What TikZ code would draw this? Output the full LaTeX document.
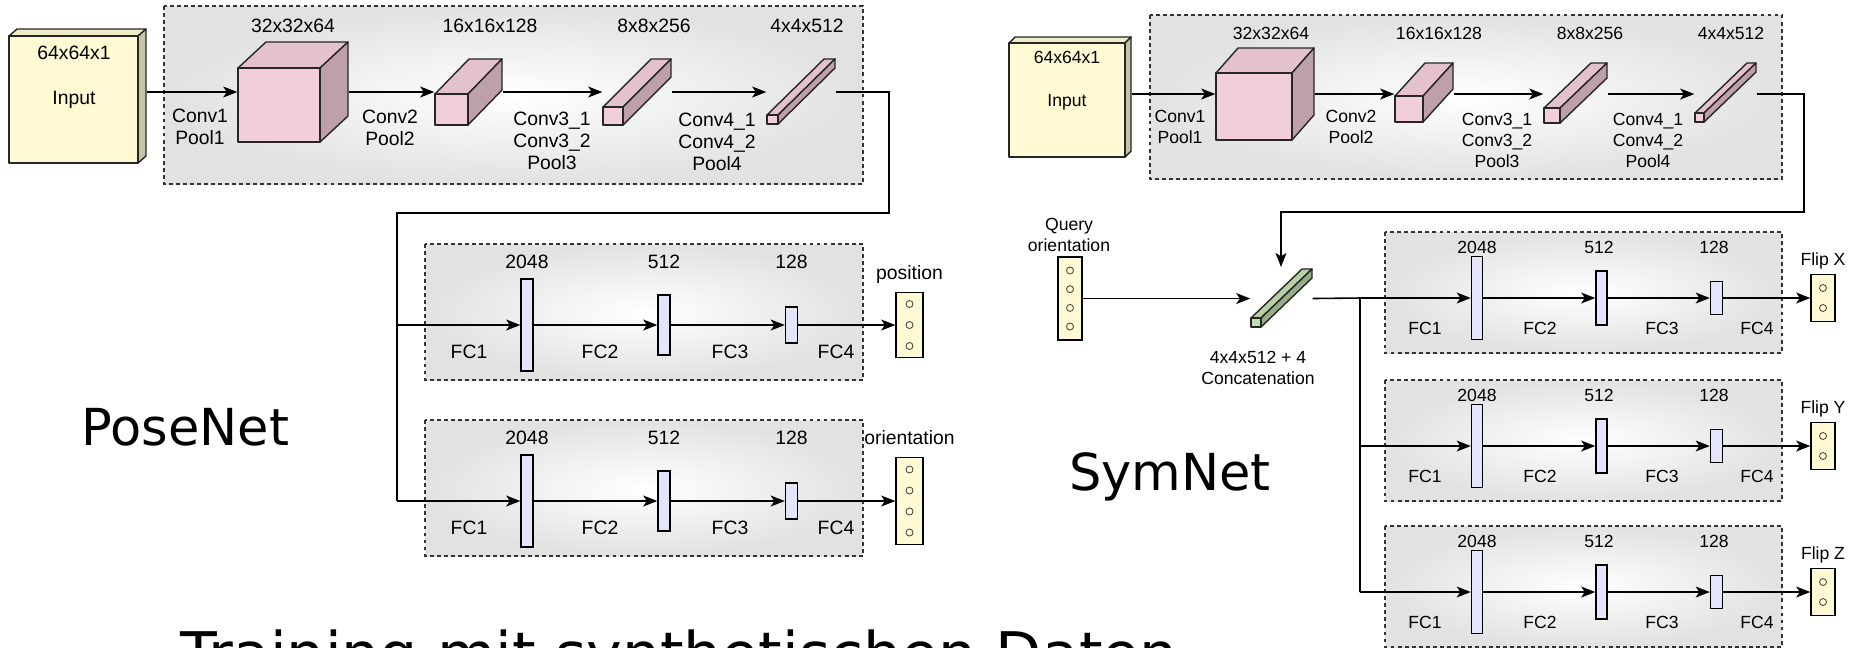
\documentclass[tikz,border=0pt]{standalone}
\usepackage{fontspec}
\setmainfont{Liberation Sans}
\newfontfamily\bigfont{DejaVu Sans}
\usetikzlibrary{arrows.meta}
\usetikzlibrary{fit}

\definecolor{inyellow}{RGB}{255,250,212}
\definecolor{convpink}{RGB}{242,205,218}
\definecolor{fcblue}{RGB}{228,228,250}
\definecolor{catgreen}{RGB}{194,220,176}
\definecolor{panelgray}{RGB}{226,226,226}

% 3d block: name, front top-left x, y, width, height, depth x, depth y, colour
\newcommand{\layer}[8]{%
  \draw[face, fill=#8!94!black] (#2,#3) -- ++(#6,-#7) -- ++(#4,0) -- ++(-#6,#7) -- cycle;
  \draw[face, fill=#8!78!black] ({#2+#4},#3) -- ++(#6,-#7) -- ++(0,#5) -- ++(-#6,#7) -- cycle;
  \draw[face, fill=#8] (#2,#3) rectangle ++(#4,#5);
  \node[fit={(#2,{#3-#7}) ({#2+#4+#6},{#3+#5})}, inner sep=0pt] (#1) {};
}

\begin{document}
\begin{tikzpicture}[x=0.01cm, y=-0.01cm]
   \tikzset{face/.style={draw=black!85, line width=0.4pt, line join=round}}
   \tikzset{panel/.style={draw=black!80, line width=0.4pt, dash pattern=on 1.1pt off 0.9pt,
                          inner color=white, outer color=panelgray}}
   \tikzset{wire/.style={line width=0.45pt}}
   \tikzset{arr/.style={wire, -{Stealth[length=4pt, width=3.1pt, inset=1pt]}}}
   \tikzset{lbl/.style={font=\fontsize{5.5}{6.2}\selectfont, align=center, inner sep=0pt}}
   \tikzset{slbl/.style={font=\fontsize{5}{6}\selectfont, align=center, inner sep=0pt}}
   \tikzset{fcbar/.style={draw, fill=fcblue, line width=0.4pt, minimum width=0.12cm, inner sep=0pt}}
   \tikzset{outbox/.style={draw, fill=inyellow, line width=0.4pt, minimum width=0.27cm, inner sep=0pt}}
   \tikzset{unit/.style={circle, draw=black!70, line width=0.25pt, minimum size=0.07cm, inner sep=0pt}}

   \useasboundingbox (0,0) rectangle (1854,647);
   \clip (0,0) rectangle (1854,647);

   % ---- PoseNet: conv part
   \path[panel] (164,6) rectangle (863,184);
   \layer{lin}{9}{36}{129}{127}{8}{7}{inyellow}
   \layer{lc1}{238}{68}{82}{74}{28}{26}{convpink}
   \layer{lc2}{435}{94}{33}{31}{34}{35}{convpink}
   \layer{lc3}{603}{107}{20}{18}{48}{48}{convpink}
   \layer{lc4}{767}{115}{11}{9}{57}{56}{convpink}
   \node[lbl] (lin1) at (74,53) {64x64x1};
   \node[lbl] (lin2) at (74,100) {Input};
   \node[lbl] (ls1) at (293,26) {32x32x64};
   \node[lbl] (ls2) at (490,26) {16x16x128};
   \node[lbl] (ls3) at (654,26) {8x8x256};
   \node[lbl] (ls4) at (807,26) {4x4x512};
   \node[lbl] (lk1) at (200,127) {Conv1\\Pool1};
   \node[lbl] (lk2) at (390,128) {Conv2\\Pool2};
   \node[lbl] (lk3) at (552,141) {Conv3\_1\\Conv3\_2\\Pool3};
   \node[lbl] (lk4) at (717,142) {Conv4\_1\\Conv4\_2\\Pool4};
   \coordinate (lrow) at (0,92);
   \foreach \a/\b in {lin/lc1, lc1/lc2, lc2/lc3, lc3/lc4}
      \draw[arr] (\a.east |- lrow) -- (\b.west |- lrow);

   % ---- PoseNet: fc heads
   \foreach \n/\ry/\k/\lab in {p/325/3/position, o/501/4/orientation} {
      \path[panel] (425,\ry-81) rectangle (863,\ry+55);
      \coordinate (\n0) at (397,\ry);
      \node[fcbar, minimum height=0.92cm] (\n1) at (527,\ry) {};
      \node[fcbar, minimum height=0.60cm] (\n2) at (664,\ry) {};
      \node[fcbar, minimum height=0.36cm] (\n3) at (791.5,\ry) {};
      \node[outbox, minimum height=\k*0.215cm+0.01cm] (\n4) at (909.5,\ry) {};
      \foreach \i in {1,...,\k}
         \node[unit] at (909.5,{\ry+(\i-(\k+1)/2)*21}) {};
      \draw[arr] (\n0) -- (\n1);
      \draw[arr] (\n1) -- (\n2);
      \draw[arr] (\n2) -- (\n3);
      \draw[arr] (\n3) -- (\n4);
      \node[lbl] at (527,\ry-63) {2048};
      \node[lbl] at (664,\ry-63) {512};
      \node[lbl] at (791.5,\ry-63) {128};
      \node[lbl] at (469,\ry+27) {FC1};
      \node[lbl] at (600,\ry+27) {FC2};
      \node[lbl] at (730,\ry+27) {FC3};
      \node[lbl] at (836,\ry+27) {FC4};
      \node[lbl, anchor=base] at ([yshift=0.12cm]\n4.north) {\lab};
   }
   \coordinate (fbR) at (889,213);
   \coordinate (fbL) at (397,213);
   \draw[wire] (lc4.east |- lrow) -| (fbR) -- (fbL) -- (o0);

   % ---- SymNet: conv part
   \path[panel] (1150,15) rectangle (1782,179);
   \layer{rin}{1009}{43}{116}{114}{6}{6}{inyellow}
   \layer{rc1}{1216}{73}{76}{67}{22}{25}{convpink}
   \layer{rc2}{1395}{96}{28}{26}{30}{33}{convpink}
   \layer{rc3}{1544}{108}{16}{15}{47}{45}{convpink}
   \layer{rc4}{1695}{113}{9}{9}{52}{50}{convpink}
   \node[slbl] (rin1) at (1067,57) {64x64x1};
   \node[slbl] (rin2) at (1067,102) {Input};
   \node[slbl] (rs1) at (1271,33) {32x32x64};
   \node[slbl] (rs2) at (1439,33) {16x16x128};
   \node[slbl] (rs3) at (1590,33) {8x8x256};
   \node[slbl] (rs4) at (1731,33) {4x4x512};
   \node[slbl] (rk1) at (1180,126.5) {Conv1\\Pool1};
   \node[slbl] (rk2) at (1351,126.5) {Conv2\\Pool2};
   \node[slbl] (rk3) at (1497,140.5) {Conv3\_1\\Conv3\_2\\Pool3};
   \node[slbl] (rk4) at (1648,140.5) {Conv4\_1\\Conv4\_2\\Pool4};
   \coordinate (rrow) at (0,94);
   \foreach \a/\b in {rin/rc1, rc1/rc2, rc2/rc3, rc3/rc4}
      \draw[arr] (\a.east |- rrow) -- (\b.west |- rrow);

   % ---- SymNet: query + concatenation
   \node[outbox, minimum width=0.24cm, minimum height=0.83cm] (q) at (1070,298.5) {};
   \foreach \i in {1,...,4}
      \node[unit] at (1070,{298.5+(\i-2.5)*18.7}) {};
   \node[slbl] (qlab) at (1069,235) {Query\\orientation};
   \layer{cat}{1251}{318}{10}{9}{51}{49}{catgreen}
   \node[slbl] (catlab) at (1258,368) {4x4x512 + 4\\Concatenation};
   \draw[arr] (q) -- (cat.west |- q);
   \coordinate (rfb) at (1804,212);
   \coordinate (catin) at (1281,267);
   \draw[arr] (rc4.east |- rrow) -| (rfb) -| (catin);
   \coordinate (split) at (1360,298);

   % ---- SymNet: flip heads
   \foreach \n/\ry/\lab in {fx/298/Flip X, fy/446/Flip Y, fz/592/Flip Z} {
      \path[panel] (1385,\ry-66) rectangle (1782,\ry+55);
      \node[fcbar, minimum width=0.11cm, minimum height=0.83cm] (\n1) at (1477,\ry) {};
      \node[fcbar, minimum width=0.11cm, minimum height=0.54cm] (\n2) at (1601.5,\ry) {};
      \node[fcbar, minimum width=0.12cm, minimum height=0.33cm] (\n3) at (1716.5,\ry) {};
      \node[outbox, minimum width=0.24cm, minimum height=0.47cm] (\n4) at (1823,\ry) {};
      \foreach \i in {-1,1}
         \node[unit] at (1823,\ry+\i*10) {};
      \draw[arr] (split |- \n1) -- (\n1);
      \draw[arr] (\n1) -- (\n2);
      \draw[arr] (\n2) -- (\n3);
      \draw[arr] (\n3) -- (\n4);
      \node[slbl] at (1477,\ry-51) {2048};
      \node[slbl] at (1599,\ry-51) {512};
      \node[slbl] at (1714,\ry-51) {128};
      \node[slbl] at (1425,\ry+30) {FC1};
      \node[slbl] at (1540,\ry+30) {FC2};
      \node[slbl] at (1662,\ry+30) {FC3};
      \node[slbl] at (1757,\ry+30) {FC4};
      \node[slbl, anchor=base] at ([yshift=0.08cm]\n4.north) {\lab};
   }
   \draw[wire] (cat.east |- q) -- (split) -- (split |- fz1);

   % ---- titles
   \node[font=\bigfont\fontsize{14.5}{17}\selectfont, anchor=base] (posenet) at (185.5,445) {PoseNet};
   \node[font=\bigfont\fontsize{14.5}{17}\selectfont, anchor=base] (symnet) at (1170,490) {SymNet};
   \node[font=\bigfont\fontsize{17.1}{20}\selectfont, anchor=base west, inner sep=0pt] (title) at (180,675) {Training mit synthetischen Daten};
\end{tikzpicture}
\end{document}
